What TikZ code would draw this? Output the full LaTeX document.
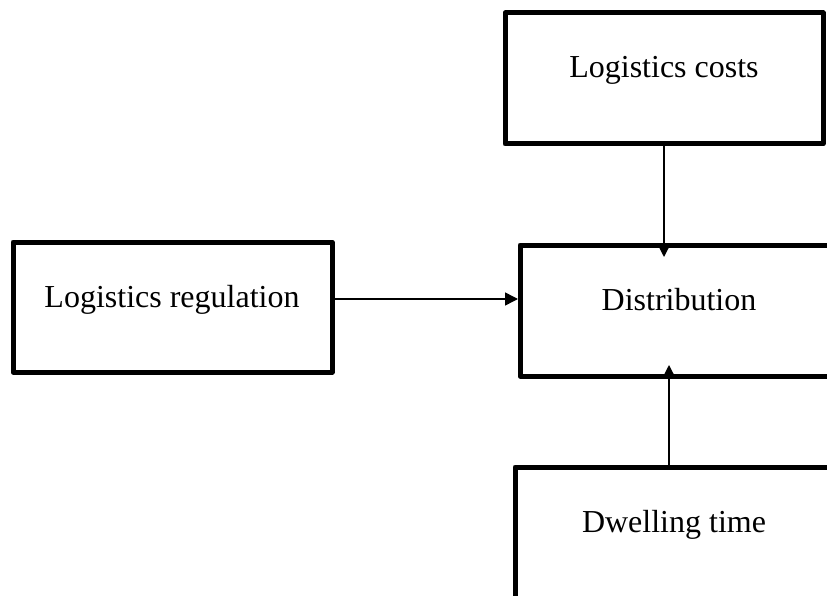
\documentclass[tikz,border=0pt]{standalone}
\usepackage{fontspec}
\setmainfont{Liberation Serif}
\usetikzlibrary{arrows.meta}
\begin{document}
\begin{tikzpicture}[x=1pt,y=-1pt,
  box/.style={draw=black,line width=5pt,line join=round,outer sep=0pt,inner sep=0pt},
  lbl/.style={anchor=base,inner sep=0pt,font=\fontsize{32}{38}\selectfont},
  arr/.style={line width=1.5pt,-{Triangle[length=13pt,width=13pt]}}]
\useasboundingbox (0,0) rectangle (827,596);
\clip (0,0) rectangle (827,596);
\node[box,minimum width=318pt,minimum height=131pt] (costs) at (664,78.5) {};
\node[box,minimum width=319pt,minimum height=130pt] (reg) at (172.5,307) {};
\node[box,minimum width=320pt,minimum height=131pt] (dist) at (680,310.5) {};
\node[box,minimum width=320pt,minimum height=131pt] (dwell) at (675,532.5) {};
\node[lbl] (costst) at (664,78) {Logistics costs};
\node[lbl] (regt) at (172,307) {Logistics regulation};
\node[lbl] (distt) at (679,310) {Distribution};
\node[lbl] (dwellt) at (674,532) {Dwelling time};
\draw[arr,shorten >=-12pt] (costs.south) -- (costs.south |- dist.north);
\draw[arr,shorten >=-11pt] ([xshift=-6pt]dwell.north) -- ([xshift=-6pt]dwell.north |- dist.south);
\draw[arr,shorten >=2pt] ([yshift=8pt]reg.east) -- ([yshift=8pt]reg.east -| dist.west);
\end{tikzpicture}
\end{document}
